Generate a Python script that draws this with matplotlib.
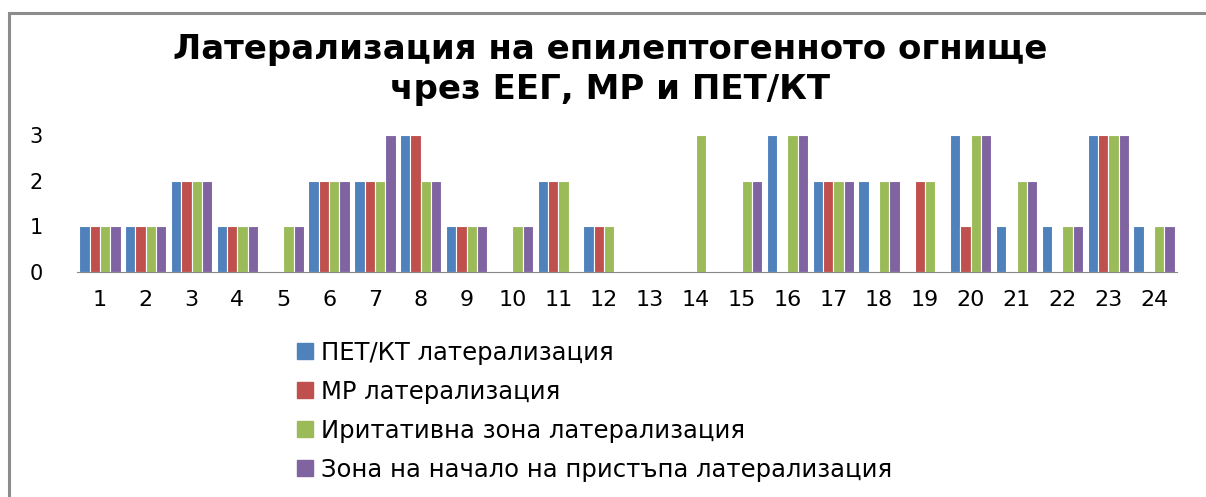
import numpy as np
import matplotlib.pyplot as plt
from matplotlib.patches import Rectangle
from matplotlib.lines import Line2D

plt.rcParams['font.family'] = ['DejaVu Sans']

# стойности по пациенти (1..24)
patients = [str(i) for i in range(1, 25)]
pet_ct = [1, 1, 2, 1, 0, 2, 2, 3, 1, 0, 2, 1, 0, 0, 0, 3, 2, 2, 0, 3, 1, 1, 3, 1]
mr = [1, 1, 2, 1, 0, 2, 2, 3, 1, 0, 2, 1, 0, 0, 0, 0, 2, 0, 2, 1, 0, 0, 3, 0]
irritative = [1, 1, 2, 1, 1, 2, 2, 2, 1, 1, 2, 1, 0, 3, 2, 3, 2, 2, 2, 3, 2, 1, 3, 1]
onset = [1, 1, 2, 1, 1, 2, 3, 2, 1, 1, 0, 0, 0, 0, 2, 3, 2, 2, 0, 3, 2, 1, 3, 1]

series = [pet_ct, mr, irritative, onset]
names = ["ПЕТ/КТ латерализация", "МР латерализация",
         "Иритативна зона латерализация",
         "Зона на начало на пристъпа латерализация"]
colors = ["#4F81BD", "#C0504D", "#9BBB59", "#8064A2"]

W, H = 1206, 497
fig = plt.figure(figsize=(W / 100, H / 100), dpi=100)

# рамка на диаграмата
fig.patches.append(Rectangle((9 / W, -0.1), 1.2, 1 - 13 / H + 0.1,
                             transform=fig.transFigure, fill=False,
                             edgecolor="#8c8c8c", linewidth=2.2))

ax = fig.add_axes([77 / W, 1 - 272 / H, (1177 - 77) / W, (272 - 135) / H])

x = np.arange(len(patients))
bw = 0.225
for k, (vals, c) in enumerate(zip(series, colors)):
    ax.bar(x + (k - 1.5) * bw, vals, width=bw, color=c,
           edgecolor="white", linewidth=0.8)

ax.set_xlim(-0.5, len(patients) - 0.5)
ax.set_ylim(0, 3)
ax.set_yticks([0, 1, 2, 3])
ax.set_xticks(x)
ax.set_xticklabels(patients)
for s in ["top", "right", "left"]:
    ax.spines[s].set_visible(False)
ax.spines["bottom"].set_color("#888888")
ax.tick_params(axis="both", length=0, labelsize=15, colors="black")
ax.tick_params(axis="x", labelsize=16, pad=13)
ax.tick_params(axis="y", pad=34)
for lbl in ax.get_yticklabels():
    lbl.set_horizontalalignment("left")

fig.text(0.506, 1 - 50 / H, "Латерализация на епилептогенното огнище",
         ha="center", va="center", fontsize=24.5, fontweight="bold")
fig.text(0.506, 1 - 89 / H, "чрез ЕЕГ, МР и ПЕТ/КТ",
         ha="center", va="center", fontsize=24.5, fontweight="bold")

handles = [Line2D([], [], marker="s", linestyle="none", markersize=11,
                  markerfacecolor=c, markeredgecolor=c) for c in colors]
fig.legend(handles, names, loc="upper left",
           bbox_to_anchor=(283 / W, 1 - 331 / H), frameon=False,
           fontsize=17.5, labelspacing=0.62, handletextpad=0.15,
           handlelength=1.0, borderaxespad=0)

fig.savefig("out.png", dpi=100)
